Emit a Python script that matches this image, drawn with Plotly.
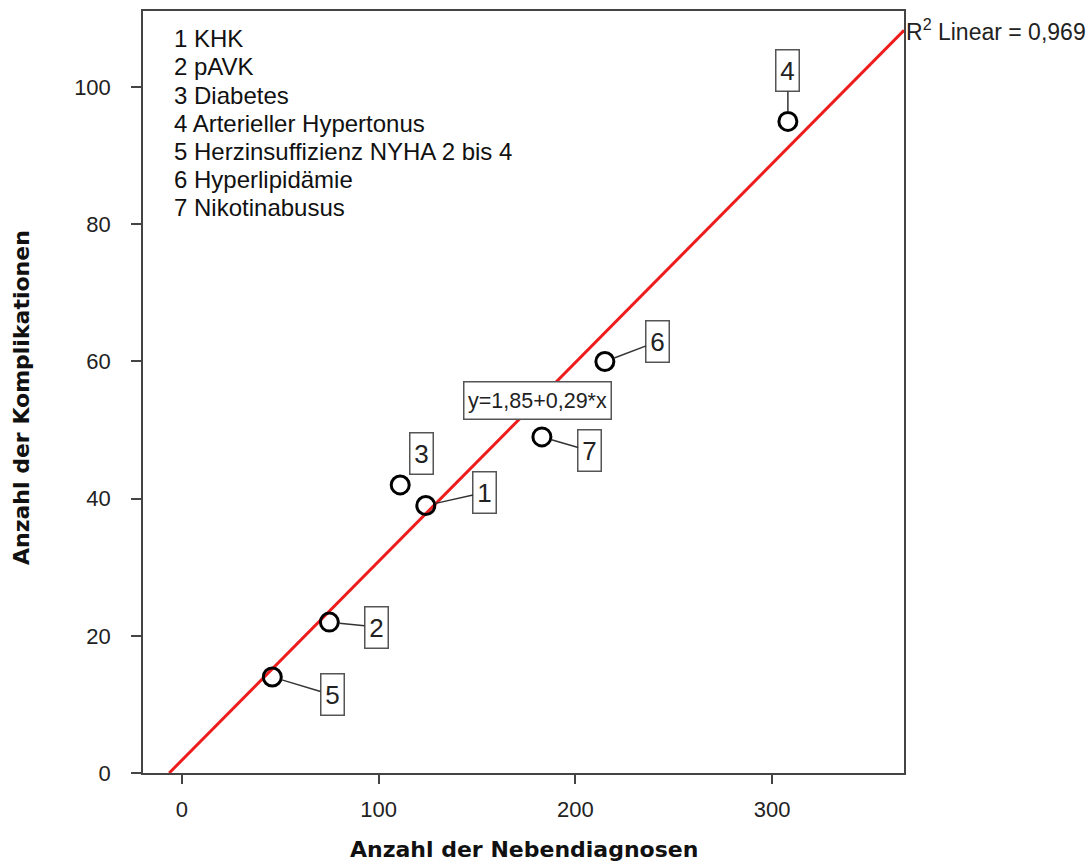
import plotly.graph_objects as go

# ---- data ----
point_ids = ["1", "2", "3", "4", "5", "6", "7"]
diagnoses = ["KHK", "pAVK", "Diabetes", "Arterieller Hypertonus",
             "Herzinsuffizienz NYHA 2 bis 4", "Hyperlipidämie", "Nikotinabusus"]
nebendiagnosen = [124, 75, 111, 308, 46, 215, 183]
komplikationen = [39, 22, 42, 95, 14, 60, 49]
intercept = 1.85
slope = 0.29
r2_text = "0,969"
x_ticks = [0, 100, 200, 300]
y_ticks = [0, 20, 40, 60, 80, 100]
x_title = "Anzahl der Nebendiagnosen"
y_title = "Anzahl der Komplikationen"

# ---- styles ----
x_range = [-19.7, 367]
y_range = [0, 111.1]
label_offsets = {  # pixel offsets of label boxes from their points (ax, ay)
    "1": (59, -13), "2": (47, 5), "3": (21, -31), "4": (0, -51),
    "5": (60, 18), "6": (53, -20), "7": (48, 14),
}
legend_line_step = 28.2
axis_col = "#444444"
tick_font = dict(family="Liberation Sans, Arial", size=22, color="#222222")
title_font = dict(family="DejaVu Sans", size=22, color="#111111")

fig = go.Figure()

# regression line, from y=0 to right edge
x0 = -intercept / slope
x1 = x_range[1]
fig.add_trace(go.Scatter(
    x=[x0, x1], y=[intercept + slope * x0, intercept + slope * x1],
    mode="lines", line=dict(color="#ee1d1d", width=3),
    hoverinfo="skip", showlegend=False, cliponaxis=True))

fig.add_trace(go.Scatter(
    x=nebendiagnosen, y=komplikationen, mode="markers",
    marker=dict(symbol="circle-open", size=18, color="black",
                line=dict(width=3, color="black")),
    text=diagnoses, showlegend=False, cliponaxis=False))

# numbered labels with leader lines
for pid, xv, yv in zip(point_ids, nebendiagnosen, komplikationen):
    ax, ay = label_offsets[pid]
    fig.add_annotation(
        x=xv, y=yv, xref="x", yref="y", text=pid,
        showarrow=True, arrowhead=0, arrowwidth=1.5,
        arrowcolor="rgba(255,255,255,0)" if pid == "3" else "#333333",
        ax=ax, ay=ay, standoff=10,
        font=dict(family="Liberation Sans, Arial", size=26, color="#222222"),
        bordercolor="#555555", borderwidth=1.5, borderpad=2,
        width=18, height=36, bgcolor="white", align="center")

# equation box on the line
eq_x = 181
fig.add_annotation(
    x=eq_x, y=intercept + slope * eq_x, xref="x", yref="y",
    text="y=1,85+0,29*x", showarrow=False,
    font=dict(family="Liberation Sans, Arial", size=21.5, color="#222222"),
    bordercolor="#555555", borderwidth=1.5, borderpad=2,
    width=142, height=32, bgcolor="white")

# R² label outside right
fig.add_annotation(
    x=1, xref="paper", xanchor="left", xshift=0,
    y=intercept + slope * x1, yref="y", yanchor="middle",
    text="R<sup>2</sup> Linear = " + r2_text, showarrow=False,
    font=dict(family="Liberation Sans, Arial", size=23, color="#222222"))

# legend text block (one annotation per line)
for i, (p, d) in enumerate(zip(point_ids, diagnoses)):
    fig.add_annotation(
        x=0.0375, y=0.984, xref="paper", yref="paper",
        xanchor="left", yanchor="top", align="left",
        yshift=-i * legend_line_step,
        text=f"{p} {d}", showarrow=False,
        font=dict(family="Liberation Sans, Arial", size=24, color="#111111"))

# axis titles as annotations
fig.add_annotation(
    x=0.5, y=0, xref="paper", yref="paper", xanchor="center", yanchor="middle",
    yshift=-76, text=f"<b>{x_title}</b>", showarrow=False, font=title_font)
fig.add_annotation(
    x=0, y=0.5, xref="paper", yref="paper", xanchor="center", yanchor="middle",
    xshift=-122, yshift=-6, textangle=-90, text=f"<b>{y_title}</b>",
    showarrow=False, font=title_font)

fig.update_xaxes(
    range=x_range, tickvals=x_ticks, ticks="outside", ticklen=9,
    tickwidth=1.5, tickcolor=axis_col, showline=True, linecolor=axis_col,
    linewidth=1.5, mirror=True, showgrid=False, zeroline=False,
    tickfont=tick_font, ticklabelstandoff=7, automargin=False)
fig.update_yaxes(
    range=y_range, tickvals=y_ticks, ticks="outside", ticklen=10,
    tickwidth=1.5, tickcolor=axis_col, showline=True, linecolor=axis_col,
    linewidth=1.5, mirror=True, showgrid=False, zeroline=False,
    tickfont=tick_font, ticklabelstandoff=16, automargin=False)

fig.update_layout(
    width=1091, height=863,
    margin=dict(l=143, r=187, t=11, b=90),
    paper_bgcolor="white", plot_bgcolor="white")

fig.write_html("out.html", config={"displayModeBar": False},
               post_script="document.body.style.margin='0';document.body.style.padding='0';")
